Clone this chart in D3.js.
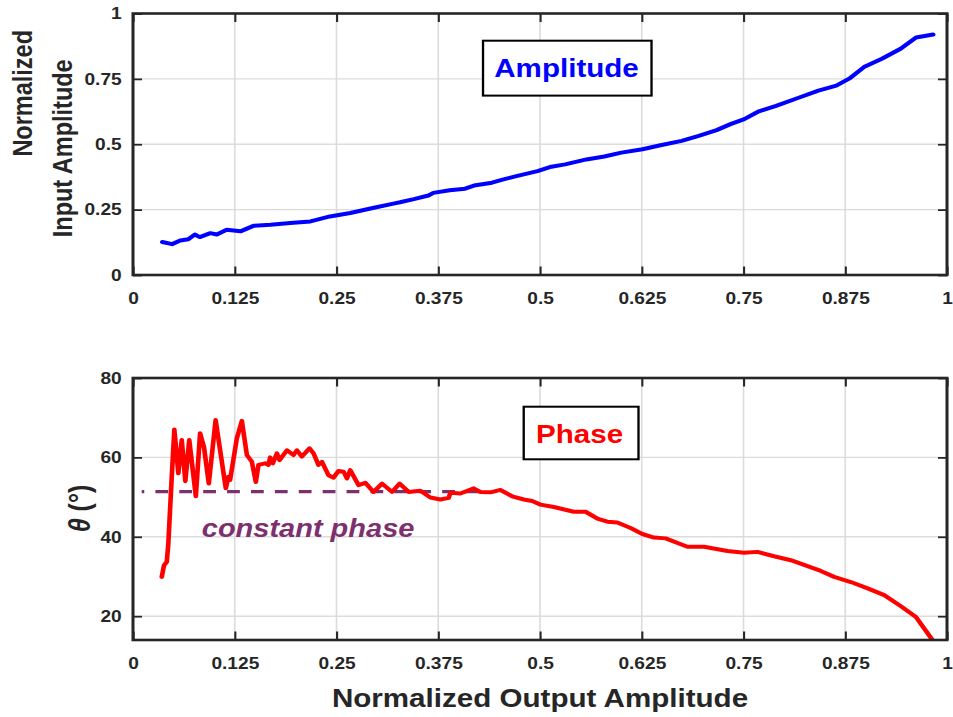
<!DOCTYPE html>
<html><head><meta charset="utf-8">
<script src="https://cdn.jsdelivr.net/npm/d3@7"></script>
<style>body{margin:0;background:#fff}svg{display:block}</style>
</head><body>
<script>
// ---------- data ----------
const xTicks = [0, 0.125, 0.25, 0.375, 0.5, 0.625, 0.75, 0.875, 1];
const xTickLabels = ["0", "0.125", "0.25", "0.375", "0.5", "0.625", "0.75", "0.875", "1"];
const ampTicks = [0, 0.25, 0.5, 0.75, 1];
const ampTickLabels = ["0", "0.25", "0.5", "0.75", "1"];
const phaseTicks = [20, 40, 60, 80];
const phaseTickLabels = ["20", "40", "60", "80"];

const ampX = [0.036,0.048,0.058,0.068,0.076,0.082,0.095,0.103,0.115,0.132,0.148,0.169,0.193,0.218,0.242,0.267,0.296,0.320,0.328,0.345,0.363,0.369,0.389,0.408,0.419,0.441,0.454,0.471,0.497,0.514,0.531,0.557,0.579,0.600,0.626,0.648,0.674,0.695,0.717,0.734,0.751,0.769,0.790,0.816,0.842,0.864,0.881,0.898,0.920,0.943,0.962,0.983];
const ampY = [0.126,0.118,0.132,0.137,0.155,0.145,0.160,0.155,0.173,0.167,0.188,0.192,0.199,0.205,0.224,0.237,0.257,0.273,0.278,0.290,0.304,0.314,0.324,0.330,0.342,0.353,0.365,0.378,0.397,0.414,0.423,0.442,0.453,0.468,0.481,0.496,0.513,0.532,0.554,0.577,0.596,0.626,0.647,0.676,0.705,0.724,0.753,0.795,0.827,0.865,0.908,0.920];

const phaseX = [0.0353,0.0381,0.0415,0.0434,0.0476,0.0508,0.0557,0.0599,0.0643,0.0691,0.0772,0.0824,0.0873,0.0931,0.1015,0.1140,0.1172,0.1193,0.1276,0.1337,0.1399,0.1460,0.1509,0.1541,0.1624,0.1664,0.1685,0.1718,0.1768,0.1800,0.1891,0.1972,0.2014,0.2075,0.2169,0.2218,0.2279,0.2321,0.2402,0.2464,0.2525,0.2587,0.2629,0.2669,0.2771,0.2854,0.2956,0.3059,0.3182,0.3276,0.3386,0.3530,0.3653,0.3776,0.3878,0.3899,0.4022,0.4186,0.4268,0.4391,0.4514,0.4658,0.4801,0.4904,0.5006,0.5170,0.5416,0.5560,0.5704,0.5827,0.5950,0.6113,0.6257,0.6400,0.6544,0.6810,0.7015,0.7303,0.7507,0.7672,0.7876,0.8081,0.8287,0.8450,0.8614,0.8819,0.9025,0.9229,0.9434,0.9619,0.9824];
const phaseY = [29.9,32.8,33.7,38.3,55.1,67.0,56.0,64.4,54.0,64.4,50.2,66.1,62.5,53.4,69.4,52.2,55.1,54.3,64.8,69.2,60.6,58.9,53.8,58.1,58.5,58.1,60.0,58.5,61.0,59.3,61.8,60.6,61.8,60.2,62.3,61.0,58.1,58.9,55.5,54.9,56.6,56.4,54.7,56.8,53.0,53.6,51.3,53.4,51.3,53.4,51.3,51.6,49.9,49.4,49.8,51.1,50.9,52.2,51.3,51.2,51.8,50.2,49.4,49.0,48.1,47.5,46.3,46.3,44.6,43.8,43.6,42.2,40.7,39.8,39.6,37.5,37.5,36.4,36.0,36.2,35.1,34.1,32.6,31.4,29.9,28.6,27.0,25.3,22.5,19.8,13.9];

const constantPhaseValue = 51.4;
const constantPhaseRange = [0.0107, 0.427];

// ---------- layout ----------
const W = 953, H = 717, SX = 1.16;       // reference is stretched horizontally
const VW = W / SX;
const sx = v => v / SX;
const FONT = "'Liberation Sans', Arial, Helvetica, sans-serif";
const AX = "#262626";

const svg = d3.select("body").append("svg")
  .attr("width", W).attr("height", H)
  .attr("viewBox", `0 0 ${VW} ${H}`)
  .attr("preserveAspectRatio", "none")
  .style("font-family", FONT);

const x = d3.scaleLinear().domain([0, 1]).range([sx(133), sx(947)]);
const yA = d3.scaleLinear().domain([0, 1]).range([275, 13.5]);
const yP = d3.scaleLinear().domain([14, 80]).range([640, 378]);

function panel(y, yTicks, yLabels, id) {
  const [bottom, top] = y.range();
  const left = x.range()[0], right = x.range()[1];
  const g = svg.append("g");
  g.append("g").selectAll("line").data(xTicks).join("line")
    .attr("x1", d => x(d)).attr("x2", d => x(d)).attr("y1", top).attr("y2", bottom)
    .attr("stroke", "#dcdcdc").attr("stroke-width", 1.4);
  g.append("g").selectAll("line").data(yTicks).join("line")
    .attr("x1", left).attr("x2", right).attr("y1", d => y(d)).attr("y2", d => y(d))
    .attr("stroke", "#dcdcdc").attr("stroke-width", 1.4);
  svg.append("clipPath").attr("id", id).append("rect")
    .attr("x", left).attr("y", top).attr("width", right - left).attr("height", bottom - top);
  return {g, top, bottom, left, right};
}

function axes(p, y, yTicks, yLabels) {
  const style = sel => {
    sel.select(".domain").remove();
    sel.selectAll(".tick line").attr("stroke", AX).attr("stroke-width", 1.8);
    sel.selectAll(".tick text").attr("fill", AX).attr("font-size", 16.5)
      .attr("font-weight", "bold").attr("font-family", FONT);
  };
  p.g.append("g").attr("transform", `translate(0,${p.bottom})`)
    .call(d3.axisBottom(x).tickValues(xTicks).tickFormat((d, i) => xTickLabels[i])
      .tickSizeInner(-8.5).tickSizeOuter(0).tickPadding(17.5)).call(style);
  p.g.append("g").attr("transform", `translate(0,${p.top})`)
    .call(d3.axisTop(x).tickValues(xTicks).tickFormat("")
      .tickSizeInner(-8.5).tickSizeOuter(0)).call(style);
  p.g.append("g").attr("transform", `translate(${p.left},0)`)
    .call(d3.axisLeft(y).tickValues(yTicks).tickFormat((d, i) => yLabels[i])
      .tickSizeInner(-sx(9)).tickSizeOuter(0).tickPadding(sx(11.3))).call(style);
  p.g.append("g").attr("transform", `translate(${p.right},0)`)
    .call(d3.axisRight(y).tickValues(yTicks).tickFormat("")
      .tickSizeInner(-sx(9)).tickSizeOuter(0)).call(style);
  p.g.append("rect").attr("x", p.left).attr("y", p.top)
    .attr("width", p.right - p.left).attr("height", p.bottom - p.top)
    .attr("fill", "none").attr("stroke", AX).attr("stroke-width", 2.6);
}

function textBox(g, x0, x1, yTop, yBot, tx, ty, label, color) {
  g.append("rect").attr("x", x0).attr("y", yTop).attr("width", x1 - x0).attr("height", yBot - yTop)
    .attr("fill", "#fff").attr("stroke", "#000").attr("stroke-width", 2);
  g.append("text").attr("x", tx).attr("y", ty).attr("text-anchor", "middle")
    .attr("font-size", 25.5).attr("font-weight", "bold").attr("fill", color).text(label);
}

// ---------- top panel: amplitude ----------
const pA = panel(yA, ampTicks, ampTickLabels, "clipA");
const ampData = ampX.map((v, i) => [v, ampY[i]]);
pA.g.append("path").datum(ampData)
  .attr("clip-path", "url(#clipA)")
  .attr("fill", "none").attr("stroke", "#0000ff").attr("stroke-width", 4)
  .attr("stroke-linejoin", "round").attr("stroke-linecap", "round")
  .attr("d", d3.line().x(d => x(d[0])).y(d => yA(d[1])));
textBox(pA.g, x(0.430), x(0.637), yA(0.896), yA(0.686), x(0.5326), yA(0.758), "Amplitude", "#0000ff");
axes(pA, yA, ampTicks, ampTickLabels);

// ---------- bottom panel: phase ----------
const pP = panel(yP, phaseTicks, phaseTickLabels, "clipP");
pP.g.append("line")
  .attr("x1", x(constantPhaseRange[0])).attr("x2", x(constantPhaseRange[1]))
  .attr("y1", yP(constantPhaseValue)).attr("y2", yP(constantPhaseValue))
  .attr("stroke", "#7e2f6e").attr("stroke-width", 3.2)
  .attr("stroke-dasharray", "11,9.6").attr("stroke-dashoffset", 8.8);
const phaseData = phaseX.map((v, i) => [v, phaseY[i]]);
pP.g.append("path").datum(phaseData)
  .attr("clip-path", "url(#clipP)")
  .attr("fill", "none").attr("stroke", "#ff0000").attr("stroke-width", 4)
  .attr("stroke-linejoin", "round").attr("stroke-linecap", "round")
  .attr("d", d3.line().x(d => x(d[0])).y(d => yP(d[1])));
pP.g.append("text").attr("x", x(0.0845)).attr("y", yP(40))
  .attr("font-size", 25).attr("font-weight", "bold").attr("font-style", "italic")
  .attr("fill", "#7e2f6e").text("constant phase");
textBox(pP.g, x(0.480), x(0.621), yP(72.77), yP(59.52), x(0.5486), yP(63.55), "Phase", "#ff0000");
axes(pP, yP, phaseTicks, phaseTickLabels);

// ---------- axis titles ----------
svg.append("text").attr("x", sx(540)).attr("y", 706.7).attr("text-anchor", "middle")
  .attr("font-size", 25.5).attr("font-weight", "bold").attr("fill", AX)
  .text("Normalized Output Amplitude");
svg.append("text").attr("transform", `translate(${sx(31.7)},93.3) rotate(-90)`)
  .attr("text-anchor", "middle").attr("font-size", 23.5).attr("font-weight", "bold").attr("fill", AX)
  .text("Normalized");
svg.append("text").attr("transform", `translate(${sx(71.7)},148.3) rotate(-90)`)
  .attr("text-anchor", "middle").attr("font-size", 23.5).attr("font-weight", "bold").attr("fill", AX)
  .text("Input Amplitude");
const th = svg.append("text").attr("transform", `translate(${sx(90)},508.5) rotate(-90)`)
  .attr("text-anchor", "middle").attr("font-size", 25).attr("font-weight", "bold").attr("fill", AX);
th.append("tspan").attr("font-style", "italic").text("θ");
th.append("tspan").text(" (°)");
</script>
</body></html>
